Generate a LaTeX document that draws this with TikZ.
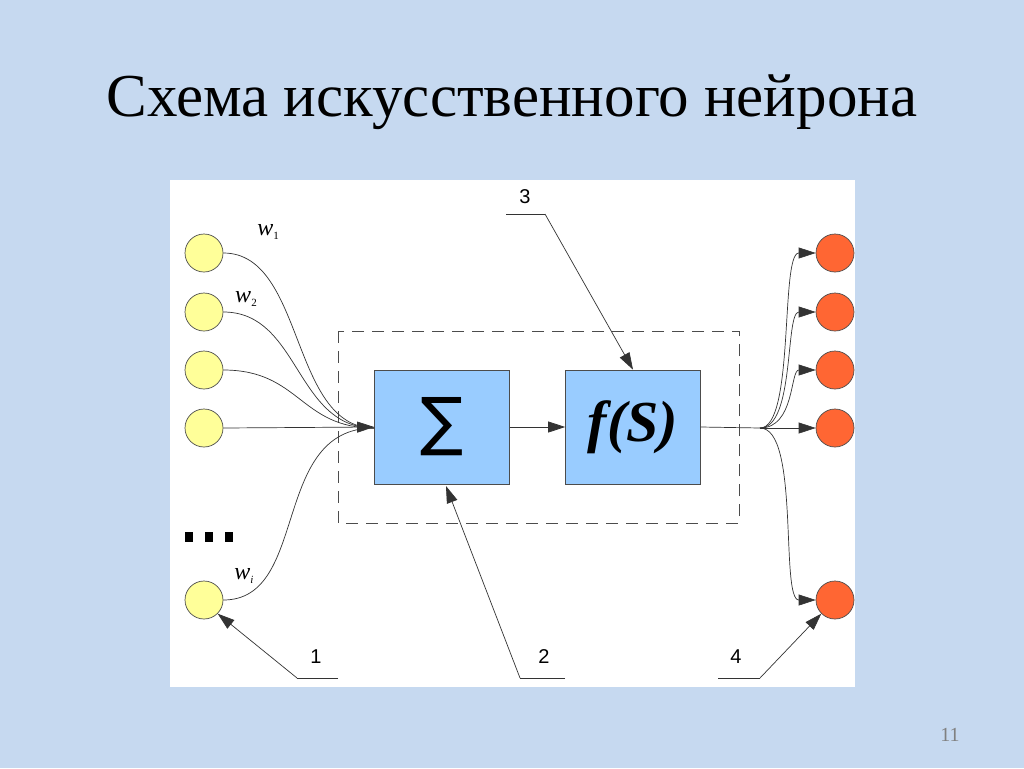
\documentclass[tikz,border=0pt]{standalone}
\usepackage{fontspec}
\setmainfont{Liberation Serif}
\newfontfamily\sansf{DejaVu Sans}
\newfontfamily\libsans{Liberation Sans}
\usetikzlibrary{arrows.meta}
\definecolor{bg}{HTML}{C6D9F0}
\definecolor{inp}{HTML}{FFFF99}
\definecolor{outc}{HTML}{FF6633}
\definecolor{boxc}{HTML}{99CCFF}
\begin{document}
\begin{tikzpicture}[x=1pt,y=-1pt,
  inode/.style={circle,draw=black!70,fill=inp,minimum size=38pt,inner sep=0pt,line width=0.7pt},
  onode/.style={circle,draw=black!70,fill=outc,minimum size=38pt,inner sep=0pt,line width=0.7pt},
  blk/.style={draw=black!70,fill=boxc,minimum width=135pt,minimum height=114pt,inner sep=0pt,line width=0.7pt},
  wire/.style={draw=black!80,line width=0.7pt},
  arr/.style={wire,-{Triangle[length=17pt,width=11pt]}},
  wlab/.style={font=\itshape\fontsize{24pt}{24pt}\selectfont},
  lbl/.style={font=\libsans\fontsize{20pt}{20pt}\selectfont}]
\useasboundingbox (0,0) rectangle (1024,768);
\fill[bg] (0,0) rectangle (1024,768);
\node[font=\fontsize{61pt}{61pt}\selectfont] (title) at (512,102) {Схема искусственного нейрона};
\fill[white] (170,180) rectangle (855,687);
\draw[dashed,dash pattern=on 12pt off 8pt,black!70,line width=0.7pt] (338,331) rectangle (739,523);
\foreach \i/\y in {1/253,2/312,3/370,4/428,5/600}{
  \node[inode] (i\i) at (204,\y) {};
  \node[onode] (o\i) at (835,\y) {};
}
\node[blk] (sum) at (442,427) {\sansf\fontsize{64pt}{64pt}\selectfont ∑};
\node[blk] (fs) at (633,427) {\bfseries\itshape\fontsize{58pt}{58pt}\selectfont f(S)};
\coordinate (in) at (374,428);
\coordinate (out) at (760,428);
\draw[wire] (i1.east) .. controls (305,253) and (290,428) .. (in);
\draw[wire] (i2.east) .. controls (300,312) and (295,428) .. (in);
\draw[wire] (i3.east) .. controls (300,370) and (300,428) .. (in);
\draw[wire] (i5.east) .. controls (310,600) and (270,428) .. (in);
\draw[arr] (i4.east) -- (sum.west);
\draw[arr] (sum.east) -- (fs.west);
\draw[wire] (fs.east) -- (out);
\draw[arr] (out) .. controls (795,428) and (780,253) .. (o1.west);
\draw[arr] (out) .. controls (795,428) and (785,312) .. (o2.west);
\draw[arr] (out) .. controls (795,428) and (790,370) .. (o3.west);
\draw[arr] (out) -- (o4.west);
\draw[arr] (out) .. controls (800,428) and (780,600) .. (o5.west);
\foreach \x in {185,205,225}{\fill (\x,532) rectangle ++(8,10);}
\node[wlab] (w1) at (268,232) {w\raisebox{-0.3ex}{\fontsize{11pt}{11pt}\selectfont\upshape 1}};
\node[wlab] (w2) at (246,299) {w\raisebox{-0.3ex}{\fontsize{11pt}{11pt}\selectfont\upshape 2}};
\node[wlab] (wi) at (244,576) {w\raisebox{-0.3ex}{\fontsize{11pt}{11pt}\selectfont i}};
\node[lbl] (n1) at (316,657) {1};
\node[lbl] (n2) at (544,657) {2};
\node[lbl] (n3) at (525,197) {3};
\node[lbl] (n4) at (736,657) {4};
\coordinate (a1) at (297,678); \coordinate (b1) at (338,678);
\coordinate (a2) at (520,678); \coordinate (b2) at (565,678);
\coordinate (a3) at (506,214); \coordinate (b3) at (545,214);
\coordinate (a4) at (718,678); \coordinate (b4) at (760,678);
\coordinate (t2) at (446,486);
\draw[wire] (b1) -- (a1); \draw[arr] (a1) -- (i5.south east);
\draw[wire] (b2) -- (a2); \draw[arr] (a2) -- (t2);
\draw[wire] (a3) -- (b3); \draw[arr] (b3) -- (fs.north);
\draw[wire] (a4) -- (b4); \draw[arr] (b4) -- (o5.south west);
\node[text=black!50,font=\fontsize{20pt}{20pt}\selectfont] (pg) at (950,735) {11};
\end{tikzpicture}
\end{document}
